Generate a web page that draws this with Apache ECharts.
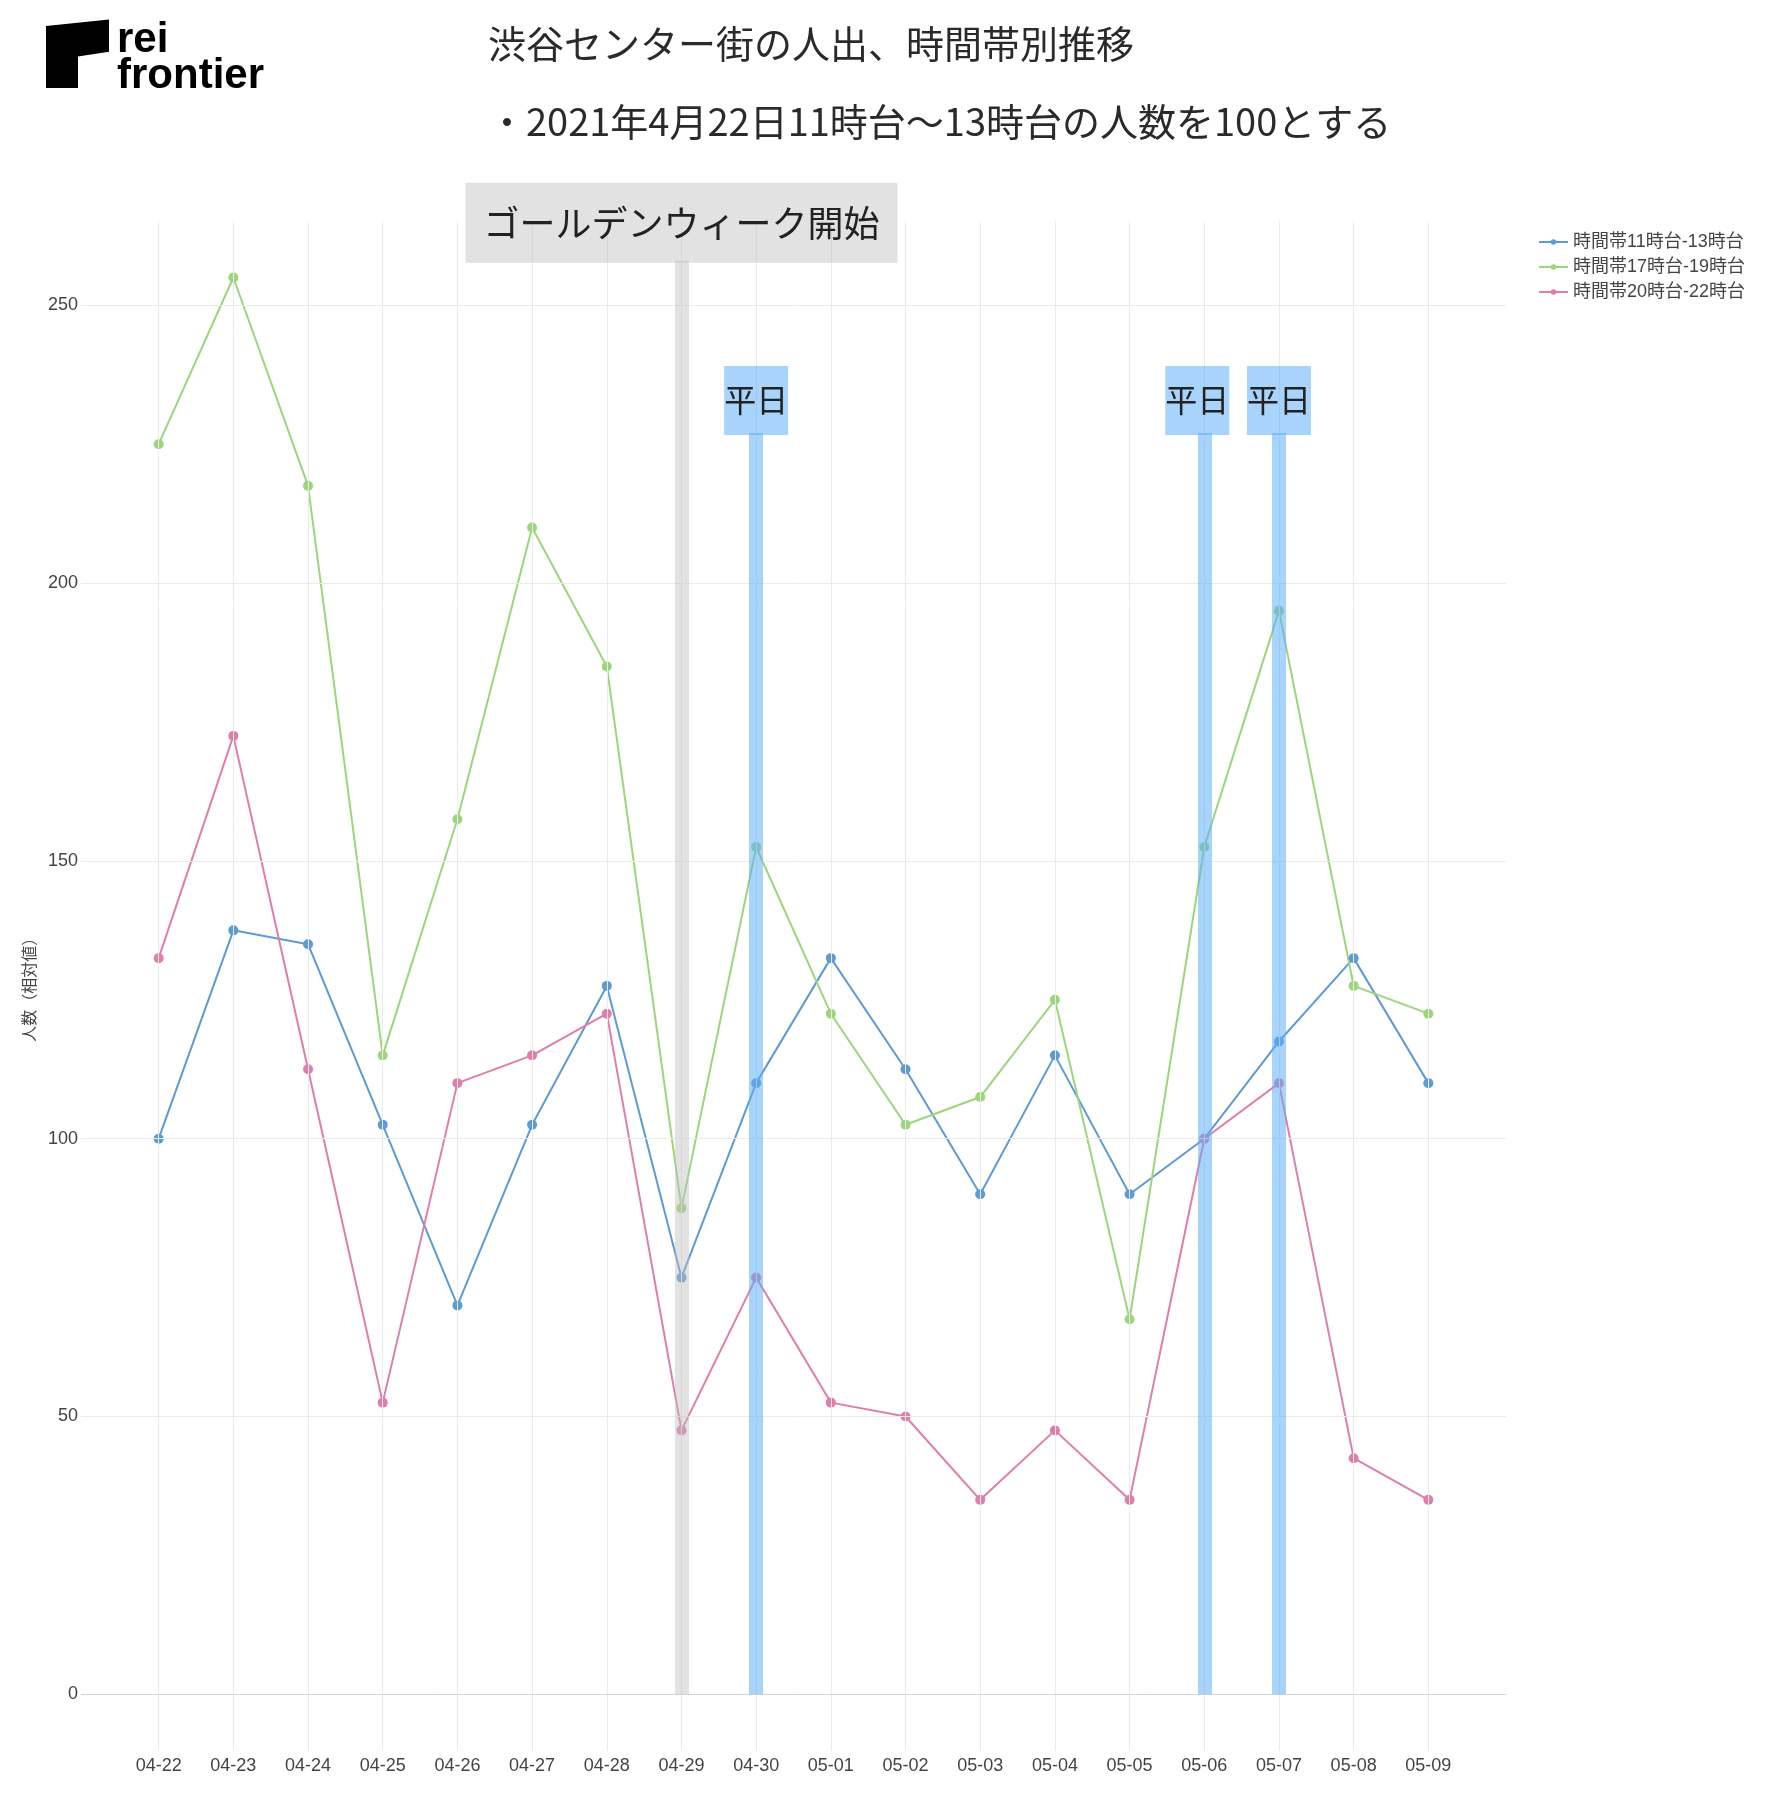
<!DOCTYPE html>
<html>
<head>
<meta charset="utf-8">
<script src="https://cdn.jsdelivr.net/npm/echarts@6/dist/echarts.min.js"></script>
<style>
html,body{margin:0;padding:0;background:#fff;}
#chart{width:1768px;height:1800px;}
</style>
</head>
<body>
<div id="chart"></div>
<script>
const dates = ['04-22','04-23','04-24','04-25','04-26','04-27','04-28','04-29','04-30','05-01','05-02','05-03','05-04','05-05','05-06','05-07','05-08','05-09'];
const seriesNames = ['時間帯11時台-13時台','時間帯17時台-19時台','時間帯20時台-22時台'];
const v11to13 = [100,137.5,135,102.5,70,102.5,127.5,75,110,132.5,112.5,90,115,90,100,117.5,132.5,110];
const v17to19 = [225,255,217.5,115,157.5,210,185,87.5,152.5,122.5,102.5,107.5,125,67.5,152.5,195,127.5,122.5];
const v20to22 = [132.5,172.5,112.5,52.5,110,115,122.5,47.5,75,52.5,50,35,47.5,35,100,110,42.5,35];
const seriesColors = ['#5e9ad4','#9cd57c','#df7dab'];
const yTicks = [0,50,100,150,200,250];
const eventDates = ['04-29','04-30','05-06','05-07'];
const eventLabels = ['ゴールデンウィーク開始','平日','平日','平日'];
const eventTops = [258,227,227,227];
const titleText = '渋谷センター街の人出、時間帯別推移';
const subtitleText = '・2021年4月22日11時台～13時台の人数を100とする';
const yName = '人数（相対値）';

const FONT = '"Liberation Sans","Noto Sans CJK JP",sans-serif';
const CJK = '"Noto Sans CJK JP","Liberation Sans",sans-serif';
const idx = dates.map((d,i)=>i);
const allValues = [v11to13, v17to19, v20to22];

const chart = echarts.init(document.getElementById('chart'));

const gridLines = [];
idx.forEach(i => gridLines.push({xAxis: i, lineStyle:{color:'#ebebeb', width:1, type:'solid'}}));
yTicks.forEach(t => gridLines.push({yAxis: t, lineStyle:{color: t === 0 ? '#d4d4d4' : '#ebebeb', width:1, type:'solid'}}));

const eventLines = eventDates.map((d,i) => {
  const x = dates.indexOf(d);
  const gray = i === 0;
  const col = gray ? 'rgba(191,191,191,0.45)' : 'rgba(97,175,246,0.55)';
  const shiftLeft = (i === 2) ? -7 : 0;
  return [
    {coord:[x,0],
     lineStyle:{color: col, width:14, type:'solid', cap:'butt'},
     label:{show:true, position:'end', formatter: eventLabels[i], distance:-2, offset:[shiftLeft,0],
       backgroundColor: col, color:'#222', fontFamily: CJK,
       fontSize: gray ? 36 : 32, lineHeight: gray ? 36 : 32,
       padding: gray ? [22,18,22,18] : [18,0,19,0]}},
    {coord:[x,eventTops[i]]}
  ];
});

const lineSeries = seriesNames.map((n,k) => ({
  name:n, type:'line', z:3,
  data: idx.map(i => [i, allValues[k][i]]),
  symbol:'circle', symbolSize:10, showSymbol:true,
  itemStyle:{color: seriesColors[k], borderWidth:0, opacity:1},
  lineStyle:{color: seriesColors[k], width:2},
  emphasis:{disabled:true}
}));

const option = {
  animation:false,
  backgroundColor:'#fff',
  title:[
    {text:titleText, left:483, top:18, textStyle:{fontSize:38, fontWeight:'normal', color:'#2a2a2a', fontFamily:CJK, lineHeight:42}},
    {text:subtitleText, left:483, top:96, textStyle:{fontSize:38, fontWeight:'normal', color:'#2a2a2a', fontFamily:CJK, lineHeight:42}}
  ],
  legend:{
    data:seriesNames, orient:'vertical', left:1533, top:228,
    itemWidth:29, itemHeight:7, itemGap:7,
    textStyle:{fontSize:18, color:'#444', fontFamily:FONT, lineHeight:18}
  },
  grid:{left:81, right:262, top:221, bottom:49.3, containLabel:false},
  xAxis:{
    type:'value', min:-1.04, max:18.04,
    axisLine:{show:false}, axisTick:{show:false}, splitLine:{show:false},
    axisLabel:{customValues: idx, formatter: v => dates[Math.round(v)] || '', fontSize:18, color:'#444', fontFamily:FONT, margin:6}
  },
  yAxis:{
    type:'value', min:-10.15, max:265.17,
    axisLine:{show:false}, axisTick:{show:false}, splitLine:{show:false},
    axisLabel:{customValues: yTicks, fontSize:18, color:'#444', fontFamily:FONT, margin:3},
    name:yName, nameLocation:'middle', nameGap:41, nameRotate:90,
    nameTextStyle:{fontSize:16, color:'#444', fontFamily:CJK}
  },
  graphic:[
    {type:'polygon', shape:{points:[[46,26],[109,19.5],[109,51.7],[78,56.5],[78,88],[46,88]]}, style:{fill:'#000'}},
    {type:'text', x:117, y:61, style:{text:'rei', font:'bold 42px "Liberation Sans"', fill:'#000', verticalAlign:'bottom'}},
    {type:'text', x:117, y:97, style:{text:'frontier', font:'bold 42px "Liberation Sans"', fill:'#000', verticalAlign:'bottom'}}
  ],
  series:[
    {name:'_grid', type:'line', data:[], z:1, silent:true,
     markLine:{silent:true, symbol:['none','none'], label:{show:false}, animation:false, data:gridLines}},
    ...lineSeries,
    {name:'_events', type:'line', data:[], z:5, silent:true,
     markLine:{silent:true, symbol:['none','none'], animation:false, data:eventLines}}
  ]
};
chart.setOption(option);
</script>
</body>
</html>
